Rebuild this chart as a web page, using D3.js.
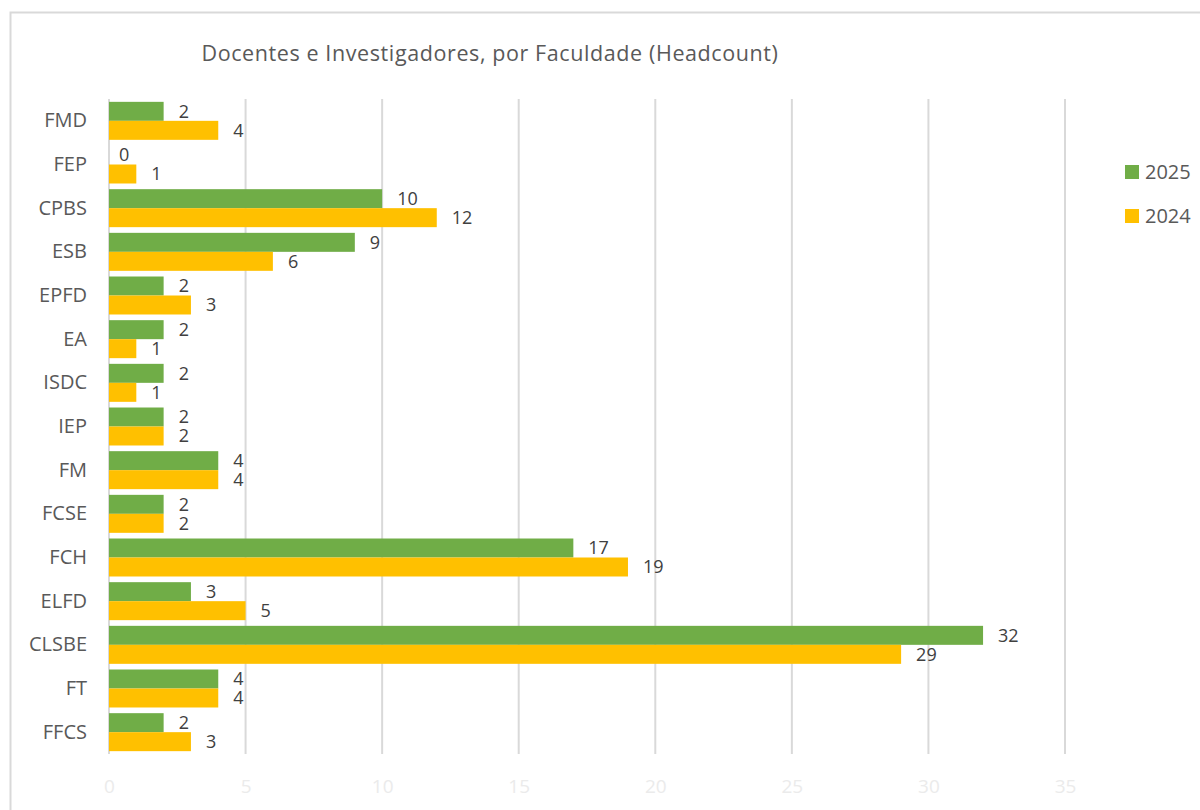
<!DOCTYPE html>
<html><head><meta charset="utf-8">
<script src="https://cdn.jsdelivr.net/npm/d3@7"></script>
<style>body{margin:0;background:#fff}svg{display:block}</style>
</head><body>
<svg id="c" width="1200" height="810"></svg>
<script>
const categories = ["FMD","FEP","CPBS","ESB","EPFD","EA","ISDC","IEP","FM","FCSE","FCH","ELFD","CLSBE","FT","FFCS"];
const values2025 = [2,0,10,9,2,2,2,2,4,2,17,3,32,4,2];
const values2024 = [4,1,12,6,3,1,1,2,4,2,19,5,29,4,3];
const seriesNames = ["2025","2024"];
const seriesColors = ["#70AD47","#FFC000"];
const xTicks = [0,5,10,15,20,25,30,35];
const title = "Docentes e Investigadores, por Faculdade (Headcount)";

(function(){
const font = "'Open Sans', 'Noto Sans', sans-serif";
const svg = d3.select("#c");
svg.append("rect").attr("x",10.5).attr("y",12.5).attr("width",1200).attr("height",820)
  .attr("fill","#fff").attr("stroke","#d9d9d9").attr("stroke-width",2);

const pL = 109, pR = 1065, pT = 99, pB = 754;
const x = d3.scaleLinear().domain([0,35]).range([pL,pR]);
const y = d3.scaleBand().domain(categories).range([pT,pB]).paddingInner(0.13).paddingOuter(0.065);
const ys = d3.scaleBand().domain(seriesNames).range([0,y.bandwidth()]);

svg.append("g").selectAll("line").data(xTicks).join("line")
  .attr("x1",d=>x(d)).attr("x2",d=>x(d)).attr("y1",pT).attr("y2",pB)
  .attr("stroke","#d9d9d9").attr("stroke-width",2);

const xa = svg.append("g").attr("transform",`translate(0,${pB})`)
  .call(d3.axisBottom(x).tickValues(xTicks).tickSize(0).tickPadding(26));
xa.select(".domain").remove();
xa.selectAll("text").attr("fill","#ebebeb").style("font-family",font).style("font-size","19px");

const ya = svg.append("g").attr("transform",`translate(${pL},0)`)
  .call(d3.axisLeft(y).tickSize(0).tickPadding(22));
ya.select(".domain").remove();
ya.selectAll("text").attr("fill","#595959").style("font-family",font).style("font-size","20px");

const data = [];
categories.forEach((c,i)=>{
  data.push({c, s:"2025", v:values2025[i], col:seriesColors[0]});
  data.push({c, s:"2024", v:values2024[i], col:seriesColors[1]});
});

svg.append("g").selectAll("rect").data(data).join("rect")
  .attr("x",x(0)).attr("y",d=>y(d.c)+ys(d.s))
  .attr("width",d=>x(d.v)-x(0)).attr("height",ys.bandwidth())
  .attr("fill",d=>d.col);

svg.append("g").selectAll("text").data(data).join("text")
  .attr("x",d=>x(d.v)+(d.v===0?10:15)).attr("y",d=>y(d.c)+ys(d.s)+ys.bandwidth()/2)
  .attr("dy","0.35em").attr("fill","#404040")
  .style("font-family",font).style("font-size","18px").text(d=>d.v);

svg.append("text").attr("x",490).attr("y",61).attr("text-anchor","middle")
  .attr("fill","#595959").style("font-family",font).style("font-size","21.5px")
  .style("letter-spacing","0.6px").text(title);

const lg = svg.append("g");
seriesNames.forEach((s,i)=>{
  const yy = 172 + i*44;
  lg.append("rect").attr("x",1125).attr("y",yy-7).attr("width",14).attr("height",14).attr("fill",seriesColors[i]);
  lg.append("text").attr("x",1145).attr("y",yy).attr("dy","0.35em").attr("fill","#595959")
    .style("font-family",font).style("font-size","20px").text(s);
});
})();
</script>
</body></html>
